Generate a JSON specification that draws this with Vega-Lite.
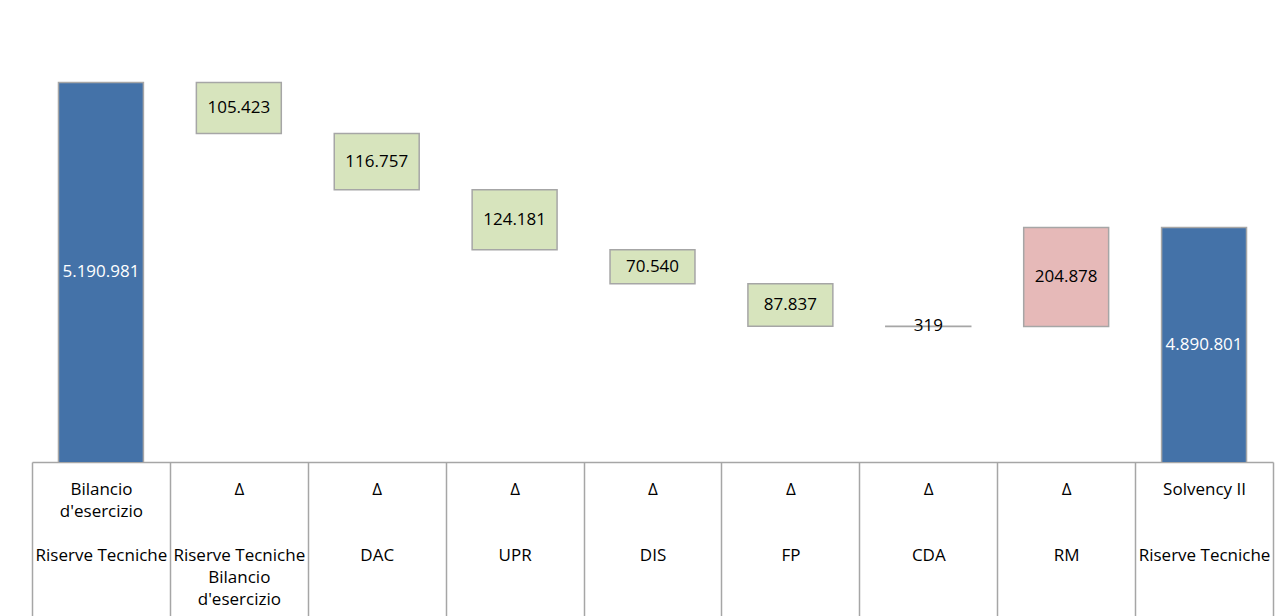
{
  "$schema": "https://vega.github.io/schema/vega-lite/v6.json",
  "width": 1241,
  "height": 432,
  "autosize": {"type": "none"},
  "padding": {"left": 32, "top": 30, "right": 11, "bottom": 154},
  "background": "white",
  "config": {
    "view": {"stroke": null},
    "locale": {"number": {"decimal": ",", "thousands": ".", "grouping": [3], "currency": ["€", ""]}}
  },
  "data": {
    "values": [
      {"cat": "Bilancio|d'esercizio|\u2800|Riserve Tecniche", "start": 0, "end": 5190981, "amount": 5190981, "kind": "total"},
      {"cat": "Δ|\u2800|\u2800|Riserve Tecniche|Bilancio|d'esercizio", "start": 5085558, "end": 5190981, "amount": 105423, "kind": "dec"},
      {"cat": "Δ|\u2800|\u2800|DAC", "start": 4968801, "end": 5085558, "amount": 116757, "kind": "dec"},
      {"cat": "Δ|\u2800|\u2800|UPR", "start": 4844620, "end": 4968801, "amount": 124181, "kind": "dec"},
      {"cat": "Δ|\u2800|\u2800|DIS", "start": 4774080, "end": 4844620, "amount": 70540, "kind": "dec"},
      {"cat": "Δ|\u2800|\u2800|FP", "start": 4686243, "end": 4774080, "amount": 87837, "kind": "dec"},
      {"cat": "Δ|\u2800|\u2800|CDA", "start": 4685924, "end": 4686243, "amount": 319, "kind": "dec"},
      {"cat": "Δ|\u2800|\u2800|RM", "start": 4685923, "end": 4890801, "amount": 204878, "kind": "inc"},
      {"cat": "Solvency II|\u2800|\u2800|Riserve Tecniche", "start": 0, "end": 4890801, "amount": 4890801, "kind": "total"}
    ]
  },
  "transform": [
    {"calculate": "(max(datum.start, 4405000) + datum.end) / 2", "as": "mid"}
  ],
  "encoding": {
    "x": {
      "field": "cat",
      "type": "nominal",
      "sort": null,
      "scale": {"paddingInner": 0, "paddingOuter": 0},
      "axis": {
        "title": null,
        "labelExpr": "split(datum.label, '|')",
        "labelAngle": 0,
        "labelFont": "Open Sans",
        "labelFontSize": 17,
        "labelColor": "black",
        "labelLineHeight": 22,
        "labelBaseline": "top",
        "labelPadding": -141,
        "labelLimit": 400,
        "labelOverlap": false,
        "tickBand": "extent",
        "tickSize": 160,
        "tickColor": "#a6a6a6",
        "tickWidth": 1.5,
        "domainColor": "#a6a6a6",
        "domainWidth": 1.5
      }
    }
  },
  "layer": [
    {
      "mark": {"type": "bar", "clip": true, "stroke": "#a6a6a6", "strokeWidth": 1.5, "width": {"band": 0.616}},
      "encoding": {
        "y": {"field": "end", "type": "quantitative", "scale": {"domain": [4405000, 5300000], "zero": false, "nice": false}, "axis": null},
        "y2": {"field": "start"},
        "fill": {"field": "kind", "type": "nominal", "scale": {"domain": ["total", "dec", "inc"], "range": ["#4472a8", "#d7e4bd", "#e6b9b8"]}, "legend": null}
      }
    },
    {
      "mark": {"type": "text", "font": "Open Sans", "fontSize": 17, "baseline": "middle"},
      "encoding": {
        "y": {"field": "mid", "type": "quantitative"},
        "text": {"field": "amount", "type": "quantitative", "format": ",d"},
        "color": {"field": "kind", "type": "nominal", "scale": {"domain": ["total", "dec", "inc"], "range": ["#ffffff", "#000000", "#000000"]}, "legend": null}
      }
    }
  ]
}
